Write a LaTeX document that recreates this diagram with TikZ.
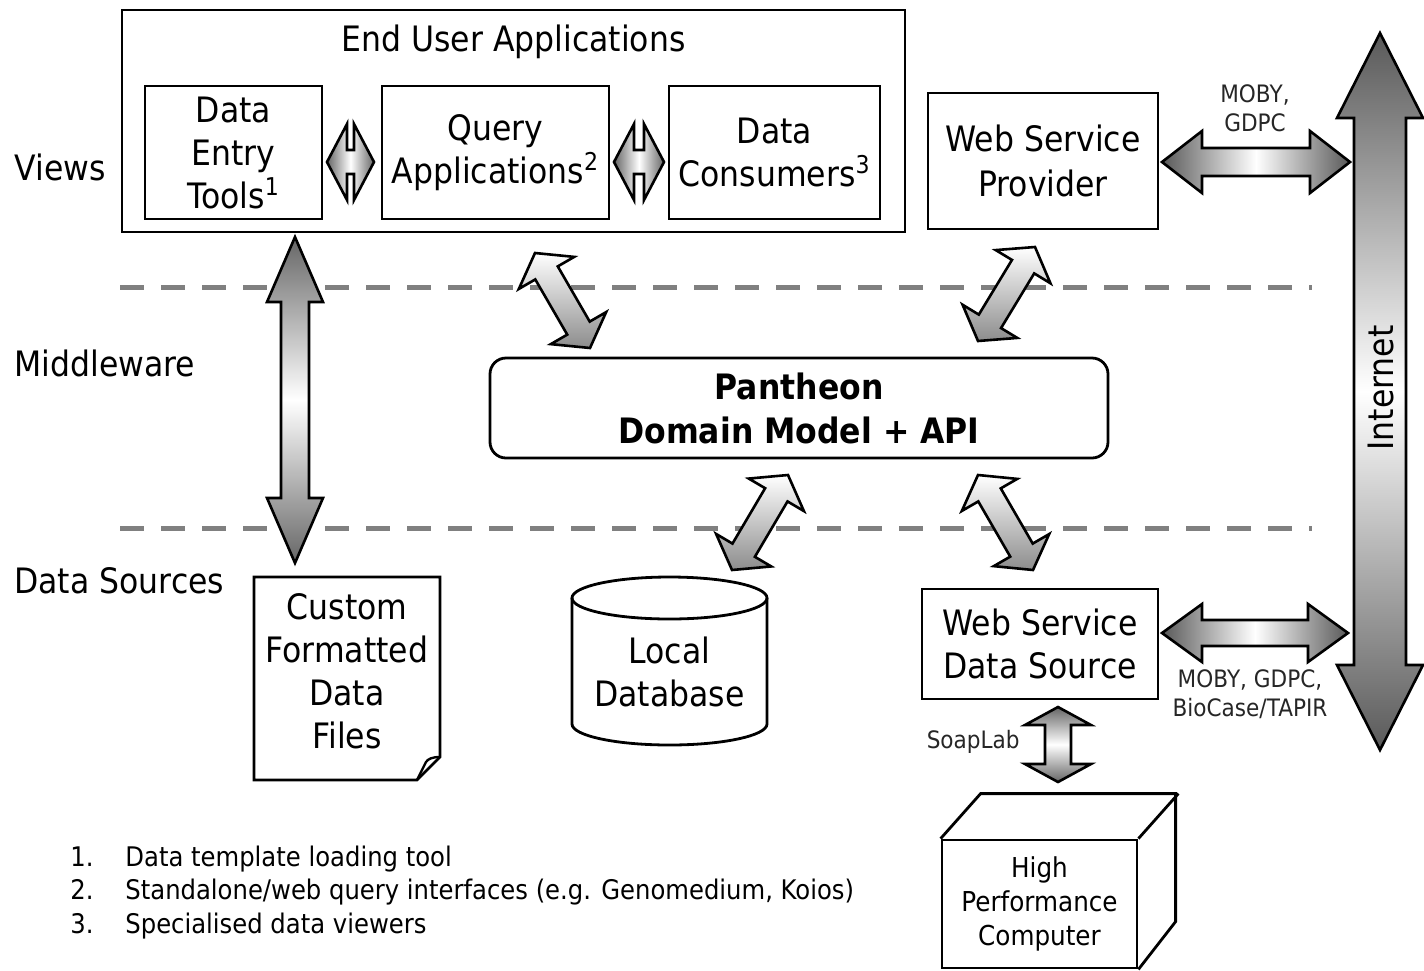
\documentclass[tikz,border=0pt]{standalone}
\usepackage{fontspec}
\setmainfont{DejaVu Sans}[FakeStretch=0.9]
\usetikzlibrary{calc}

\tikzset{
  box/.style={draw, line width=1.4pt, align=center, inner sep=0pt},
  tag/.style={anchor=west, inner sep=0pt},
  note/.style={font=\fontsize{12}{14.5}\selectfont, align=center, text=black!85, inner sep=0pt},
  arrowbody/.style={draw, line width=1.3pt, line join=miter},
  sepline/.style={draw=gray, line width=2.5pt, dash pattern=on 12pt off 8.5pt},
  darkends/.style={left color=black!60, right color=black!60, middle color=white},
  darkendsv/.style={top color=black!60, bottom color=black!60, middle color=white},
  lightdiag/.style={top color=white, bottom color=black!45},
}

% double arrow: [style]{tip A}{tip B}{head length}{head half width}{shaft half width}
\newcommand\biarrow[6][]{%
  \path[arrowbody,#1] (#2)
    -- ($(#2)!#4!(#3)!#5!90:(#3)$) -- ($(#2)!#4!(#3)!#6!90:(#3)$)
    -- ($(#3)!#4!(#2)!#6!-90:(#2)$) -- ($(#3)!#4!(#2)!#5!-90:(#2)$)
    -- (#3)
    -- ($(#3)!#4!(#2)!#5!90:(#2)$) -- ($(#3)!#4!(#2)!#6!90:(#2)$)
    -- ($(#2)!#4!(#3)!#6!-90:(#3)$) -- ($(#2)!#4!(#3)!#5!-90:(#3)$)
    -- cycle;}

\begin{document}
\begin{tikzpicture}[x=0.5pt, y=-0.5pt, font=\fontsize{17.5}{21.5}\selectfont]
  \useasboundingbox (0,0) rectangle (1424,970);

  % layer separators
  \draw[sepline] (120,287) -- (1312,287);
  \draw[sepline] (120,528) -- (1312,528);

  % layer names
  \node[tag] (views) at (14,167) {Views};
  \node[tag] (middle) at (14,363) {Middleware};
  \node[tag] (sources) at (14,581) {Data Sources};

  % views
  \node[box, minimum width=391.5pt, minimum height=111pt] (eua) at (513.5,121) {};
  \node (euat) at (513.5,42) {End User Applications};
  \node[box, minimum width=88.5pt, minimum height=66.5pt] (det) at (233.5,152.5) {Data\\Entry\\Tools\textsuperscript{1}};
  \node[box, minimum width=113.5pt, minimum height=66.5pt] (qa) at (495.5,152.5) {Query\\Applications\textsuperscript{2}};
  \node[box, minimum width=105.5pt, minimum height=66.5pt] (dc) at (774.5,152.5) {Data\\Consumers\textsuperscript{3}};
  \node[box, minimum width=115pt, minimum height=68pt, font=\fontsize{17.5}{22.5}\selectfont] (wsp) at (1043,161) {Web Service\\Provider};

  % middleware
  \node[box, rounded corners=8pt, minimum width=309pt, minimum height=50pt, font=\bfseries\fontsize{17.5}{22}\selectfont] (pan) at (799,408) {Pantheon\\Domain Model + API};

  % data sources
  \node[box, minimum width=118pt, minimum height=55pt] (wsds) at (1040,644) {Web Service\\Data Source};
  \node[align=center, inner sep=0pt] (cfd) at (347,671.5) {Custom\\Formatted\\Data\\Files};
  \draw[line width=1.4pt, line join=miter] (254,577) -- (440,577) -- (440,757) -- (417,780) -- (254,780) -- cycle;
  \draw[line width=1.2pt] (440,757) .. controls (432,757) and (428,759) .. (426,762) -- (417,780);
  \node[align=center, inner sep=0pt] (ldb) at (669.5,672) {Local\\Database};
  \draw[line width=1.4pt] (572,598) -- (572,724) arc[start angle=180, end angle=360, x radius=48.75pt, y radius=10.5pt] -- (767,598);
  \draw[line width=1.4pt] (669.5,598) ellipse[x radius=48.75pt, y radius=10.5pt];
  \node[box, minimum width=97.5pt, minimum height=64pt, font=\fontsize{13.7}{17}\selectfont] (hpc) at (1039.5,904) {High\\Performance\\Computer};
  \draw[line width=1.4pt, line join=miter] (hpc.north west) -- ++(40,-45) -- ++(195,0) -- ++(0,128) -- (hpc.south east)
    (hpc.north east) -- ++(40,-45);

  % arrow tips
  \coordinate (dq1) at (327,162);   \coordinate (dq2) at (374,162);
  \coordinate (qc1) at (614,162);   \coordinate (qc2) at (664,162);
  \coordinate (df1) at (295,237);   \coordinate (df2) at (295,563);
  \coordinate (qp1) at (535,253);   \coordinate (qp2) at (590,348);
  \coordinate (wp1) at (1035,247);  \coordinate (wp2) at (978,341);
  \coordinate (pl1) at (788,475);   \coordinate (pl2) at (732,570);
  \coordinate (pw1) at (978,475);   \coordinate (pw2) at (1033,570);
  \coordinate (wi1) at (1162,162);  \coordinate (wi2) at (1350,162);
  \coordinate (si1) at (1162,633);  \coordinate (si2) at (1348,633);
  \coordinate (sh1) at (1058,707);  \coordinate (sh2) at (1058,782);
  \coordinate (net1) at (1380,33);  \coordinate (net2) at (1380,750);

  % connectors
  \biarrow[darkends]{dq1}{dq2}{10pt}{19pt}{6pt}
  \biarrow[darkends]{qc1}{qc2}{10pt}{19pt}{6pt}
  \biarrow[darkendsv]{df1}{df2}{32.5pt}{14pt}{7pt}
  \biarrow[lightdiag]{qp1}{qp2}{11.5pt}{16pt}{6.5pt}
  \biarrow[lightdiag]{wp1}{wp2}{11.5pt}{16pt}{6.5pt}
  \biarrow[lightdiag]{pl1}{pl2}{11.5pt}{16pt}{6.5pt}
  \biarrow[lightdiag]{pw1}{pw2}{11.5pt}{16pt}{6.5pt}
  \biarrow[darkends, left color=black!65, right color=black!65, middle color=white]{wi1}{wi2}{20pt}{15.5pt}{7pt}
  \biarrow[darkends, left color=black!65, right color=black!65, middle color=white]{si1}{si2}{20pt}{14.5pt}{6.5pt}
  \biarrow[darkendsv]{sh1}{sh2}{9pt}{16.5pt}{6.5pt}
  \biarrow[top color=black!65, bottom color=black!65, middle color=white]{net1}{net2}{42.5pt}{21.5pt}{13pt}

  % connector labels
  \node[rotate=90] (net) at (1381,388) {Internet};
  \node[note] (wil) at (1255,108) {MOBY,\\GDPC};
  \node[note] (sil) at (1250,694) {MOBY, GDPC,\\BioCase/TAPIR};
  \node[note, anchor=east] (shl) at (1020,742) {SoapLab};

  % footnotes
  \foreach \i/\txt [count=\k from 0] in {1/Data template loading tool,
      2/{Standalone/web query interfaces (e.g. Genomedium, Koios)},
      3/Specialised data viewers} {
    \node[anchor=mid west, inner sep=0pt, font=\fontsize{13.5}{16}\selectfont] (num\i) at (70,861+33.5*\k) {\i.};
    \node[anchor=mid west, inner sep=0pt, font=\fontsize{13.5}{16}\selectfont] (fn\i) at (125,861+33.5*\k) {\txt};
  }
\end{tikzpicture}
\end{document}
